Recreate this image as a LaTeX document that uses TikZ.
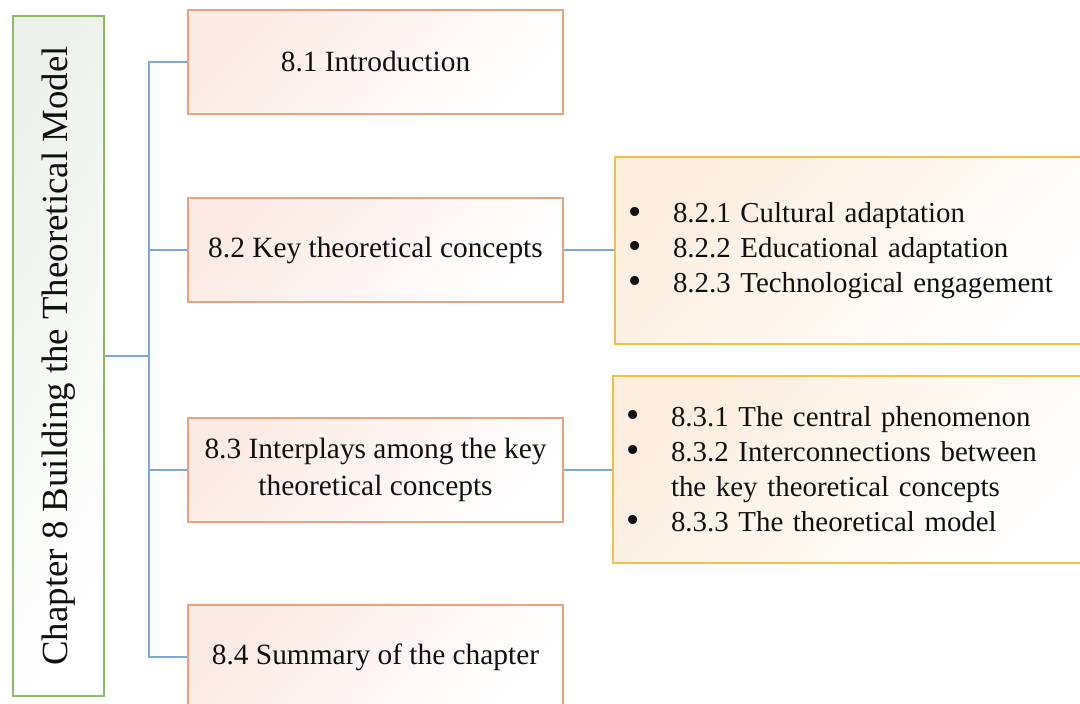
\documentclass[tikz,border=0pt]{standalone}
\usepackage{fontspec}
\setmainfont{Liberation Serif}
\definecolor{linkblue}{HTML}{7AAAD9}
\definecolor{chapline}{HTML}{8CBB6A}
\definecolor{chapfill}{HTML}{ECF2EA}
\definecolor{secline}{HTML}{E9A27B}
\definecolor{secfill}{HTML}{FCEAE4}
\definecolor{subline}{HTML}{EFC04A}
\definecolor{subfill}{HTML}{FDEEDF}
\definecolor{ink}{HTML}{101010}
\newcommand{\bulletitem}{\makebox[45bp][l]{\raisebox{-1.5bp}{\fontsize{38}{35}\selectfont\textbullet}}}
\begin{document}
\begin{tikzpicture}[x=1bp,y=-1bp,
  every node/.style={text=ink},
  chapbox/.style={draw=chapline, line width=2bp, left color=chapfill, right color=white,
    shading angle=60, rotate=90, minimum width=680bp, minimum height=91bp,
    inner sep=0pt, font=\fontsize{37}{44}\selectfont},
  secbox/.style={draw=secline, line width=2bp, top color=secfill, bottom color=white,
    shading angle=45, minimum width=375bp, minimum height=104bp, inner sep=0pt,
    align=center, font=\fontsize{29.5}{37}\selectfont},
  subbox/.style={draw=subline, line width=2bp, top color=subfill, bottom color=white,
    shading angle=45, minimum width=485bp, minimum height=187bp, inner xsep=13bp,
    inner ysep=0pt, text width=459bp, align=left, font=\fontsize{29}{35}\selectfont},
  conn/.style={draw=linkblue, line width=1.5bp}]
\path[use as bounding box, clip] (0,0) rectangle (1080,704);
\fill[white] (0,0) rectangle (1080,704);

% chapter title box
\node[chapbox] (chap) at (58.5,356) {Chapter 8 Building the Theoretical Model};

% section boxes
\node[secbox] (s1) at (375.5,62)  {8.1 Introduction};
\node[secbox] (s2) at (375.5,250) {8.2 Key theoretical concepts};
\node[secbox] (s3) at (375.5,470) {8.3 Interplays among the key\\theoretical concepts};
\node[secbox] (s4) at (375.5,657) {8.4 Summary of the chapter};

% subsection lists
\node[subbox] (l2) at (857.5,250.5) {\bulletitem 8.2.1 Cultural adaptation\\
  \bulletitem 8.2.2 Educational adaptation\\
  \bulletitem 8.2.3 Technological engagement};
\node[subbox] (l3) at (855.5,469.5) {\bulletitem 8.3.1 The central phenomenon\\
  \bulletitem 8.3.2 Interconnections between\\
  \hspace*{45bp}the key theoretical concepts\\
  \bulletitem 8.3.3 The theoretical model};

% connectors
\draw[conn] (chap.south) -- ++(44,0) coordinate (hub);
\draw[conn] (s1.west) -- (s1.west -| hub) -- (s4.west -| hub) -- (s4.west);
\draw[conn] (s2.west -| hub) -- (s2.west);
\draw[conn] (s3.west -| hub) -- (s3.west);
\draw[conn] (s2.east) -- (s2.east -| l2.west);
\draw[conn] (s3.east) -- (s3.east -| l3.west);
\end{tikzpicture}
\end{document}
